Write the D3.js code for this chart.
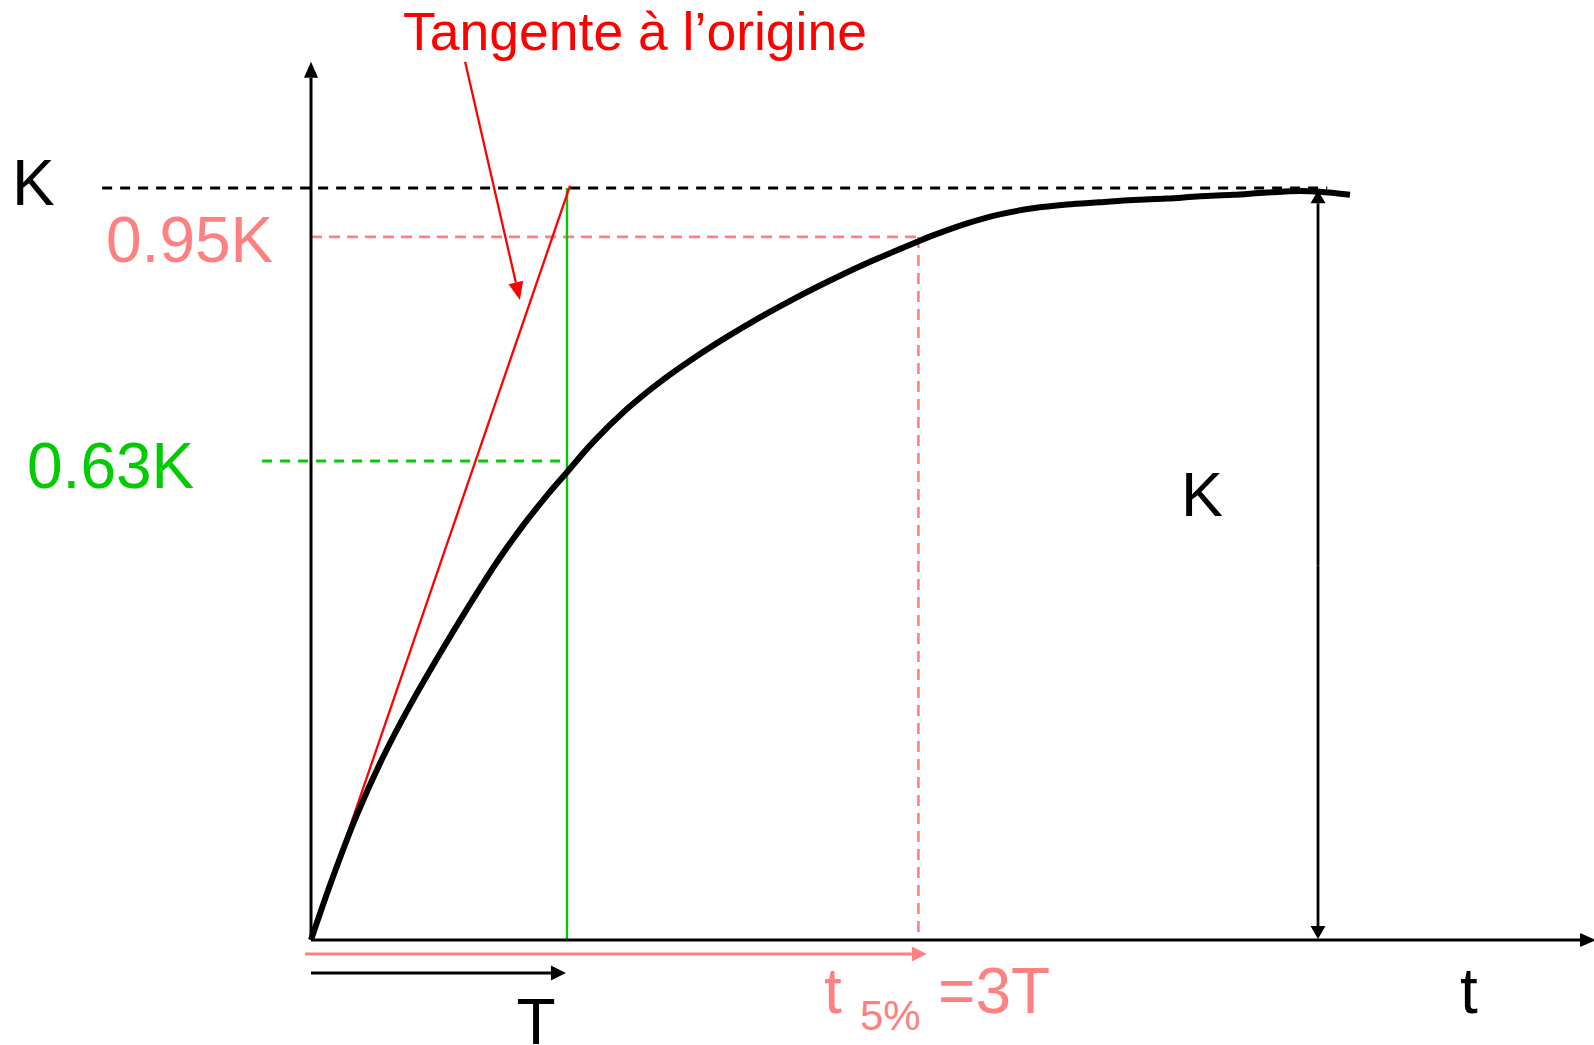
<!DOCTYPE html>
<html>
<head>
<meta charset="utf-8">
<script src="https://cdn.jsdelivr.net/npm/d3@7"></script>
<style>
  body { margin: 0; background: #fff; }
  svg { display: block; font-family: "Liberation Sans", Arial, sans-serif; }
</style>
</head>
<body>
<svg id="chart" width="1594" height="1045"></svg>
<script>
// step response (t in units of T, y in units of K)
const curveT = [0, 0.086, 0.18, 0.281, 0.387, 0.504, 0.609, 0.727, 0.828, 0.914,
  1.0, 1.102, 1.234, 1.363, 1.492, 1.625, 1.754, 1.883, 2.016, 2.145,
  2.273, 2.371, 2.43, 2.563, 2.691, 2.82, 2.953, 3.082, 3.211, 3.344,
  3.473, 3.602, 3.734, 3.863, 3.941, 4.059];
const curveY = [0, 0.084, 0.167, 0.243, 0.312, 0.381, 0.44, 0.503, 0.551, 0.588,
  0.622, 0.662, 0.706, 0.742, 0.773, 0.802, 0.828, 0.852, 0.875, 0.896,
  0.915, 0.929, 0.937, 0.953, 0.965, 0.973, 0.978, 0.981, 0.984, 0.986,
  0.989, 0.991, 0.994, 0.996, 0.995, 0.991];

// reference levels and times
const levelK = 1;
const level95 = 0.935;
const level63 = 0.637;
const timeT = 1.0;
const time5 = 2.373;
const tangentEnd = [1.012, 1.003];
const timeK = 3.934;

const labelsLeft = ["K", "0.95K", "0.63K"];

const svg = d3.select("#chart");
const x = d3.scaleLinear().domain([0, 5.02]).range([311, 1596]);
const y = d3.scaleLinear().domain([0, 1]).range([940, 188]);

//line with a filled triangle at the end
function arrow(g, x1, y1, x2, y2, color, w, len, half) {
  const a = Math.atan2(y2 - y1, x2 - x1);
  const bx = x2 - len * Math.cos(a), by = y2 - len * Math.sin(a);
  g.append("line")
    .attr("x1", x1).attr("y1", y1).attr("x2", bx).attr("y2", by)
    .attr("stroke", color).attr("stroke-width", w);
  const px = -Math.sin(a) * half, py = Math.cos(a) * half;
  g.append("path")
    .attr("d", `M${x2},${y2}L${bx + px},${by + py}L${bx - px},${by - py}Z`)
    .attr("fill", color);
}

//dashed guides
svg.append("line")
  .attr("x1", x(-0.816)).attr("x2", x(3.97))
  .attr("y1", y(levelK)).attr("y2", y(levelK))
  .attr("stroke", "#000").attr("stroke-width", 3)
  .attr("stroke-dasharray", "10,8");
svg.append("line")
  .attr("x1", x(0)).attr("x2", x(time5))
  .attr("y1", y(level95)).attr("y2", y(level95))
  .attr("stroke", "#ff8080").attr("stroke-width", 2.6)
  .attr("stroke-dasharray", "11,7");
svg.append("line")
  .attr("x1", x(time5)).attr("x2", x(time5))
  .attr("y1", y(level95)).attr("y2", y(0))
  .attr("stroke", "#ff8080").attr("stroke-width", 2.6)
  .attr("stroke-dasharray", "11,7");
svg.append("line")
  .attr("x1", x(-0.191)).attr("x2", x(timeT))
  .attr("y1", y(level63)).attr("y2", y(level63))
  .attr("stroke", "#00cc00").attr("stroke-width", 2.8)
  .attr("stroke-dasharray", "10,8");

//green vertical at T
svg.append("line")
  .attr("x1", x(timeT)).attr("x2", x(timeT))
  .attr("y1", y(levelK)).attr("y2", y(0))
  .attr("stroke", "#00cc00").attr("stroke-width", 2.4);

//axes
const axes = svg.append("g");
arrow(axes, x(0), y(0), x(0), y(1.168), "#000", 3, 16, 7);
arrow(axes, x(0), y(0), x(5.02), y(0), "#000", 3, 16, 7);

//tangent
svg.append("line")
  .attr("x1", x(0)).attr("y1", y(0))
  .attr("x2", x(tangentEnd[0])).attr("y2", y(tangentEnd[1]))
  .attr("stroke", "#ff0000").attr("stroke-width", 2.3);

//the response curve
const pts = curveT.map((t, i) => [t, curveY[i]]);
svg.append("path")
  .datum(pts)
  .attr("fill", "none")
  .attr("stroke", "#000")
  .attr("stroke-width", 6)
  .attr("stroke-linejoin", "round")
  .attr("d", d3.line().x(d => x(d[0])).y(d => y(d[1])).curve(d3.curveCatmullRom.alpha(0.5)));

//double arrow for K
const kx = x(timeK);
const kg = svg.append("g");
arrow(kg, kx, (y(0) + y(0.997)) / 2, kx, y(0.997), "#000", 2.8, 13, 7.5);
arrow(kg, kx, (y(0) + y(0.997)) / 2, kx, y(0) - 1, "#000", 2.8, 13, 7.5);

//time arrows under the axis
arrow(svg, x(-0.023), y(-0.0186), x(2.406), y(-0.0186), "#ff8080", 2.8, 15, 7.5);
arrow(svg, x(0), y(-0.0439), x(0.996), y(-0.0439), "#000", 2.8, 15, 7.5);

//annotation arrow
arrow(svg, x(0.602), y(1.168), x(0.816), y(0.851), "#ff0000", 2.3, 18, 7.5);

//texts
svg.append("text").attr("x", 403).attr("y", 50)
  .attr("font-size", 53.5).attr("fill", "#ff0000")
  .text("Tangente à l’origine");

const leftColors = ["#000", "#ff8080", "#00cc00"];
const leftPos = [[12, 205], [106, 262], [27, 488]];
labelsLeft.forEach((s, i) => {
  svg.append("text").attr("x", leftPos[i][0]).attr("y", leftPos[i][1])
    .attr("font-size", 64).attr("fill", leftColors[i]).text(s);
});

svg.append("text").attr("x", 1181).attr("y", 516)
  .attr("font-size", 63).attr("fill", "#000").text("K");
svg.append("text").attr("x", 536).attr("y", 1044)
  .attr("text-anchor", "middle")
  .attr("font-size", 64).attr("fill", "#000").text("T");
svg.append("text").attr("x", 1460).attr("y", 1013)
  .attr("font-size", 64).attr("fill", "#000").text("t");

const t5 = svg.append("g").attr("fill", "#ff8080");
t5.append("text").attr("x", 824).attr("y", 1013).attr("font-size", 64).text("t");
t5.append("text").attr("x", 860).attr("y", 1030).attr("font-size", 42).text("5%");
t5.append("text").attr("x", 938).attr("y", 1013).attr("font-size", 64).text("=3T");
</script>
</body>
</html>
